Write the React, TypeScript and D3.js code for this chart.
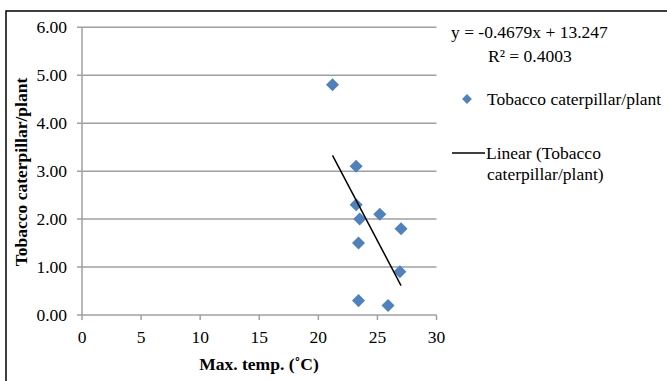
import React, { useEffect, useRef } from "react";
import * as d3 from "d3";

// Max temperature (°C) vs tobacco caterpillar count per plant
const maxTemp = [21.2, 23.2, 23.2, 23.5, 25.2, 27.0, 23.4, 26.9, 23.4, 25.9];
const caterpillars = [4.8, 3.1, 2.3, 2.0, 2.1, 1.8, 1.5, 0.9, 0.3, 0.2];
const xTicks = [0, 5, 10, 15, 20, 25, 30];
const yTicks = [0, 1, 2, 3, 4, 5, 6];
const trendSlope = -0.4679;
const trendIntercept = 13.247;

const FONT = "Liberation Serif";

const App = () => {
  const ref = useRef<SVGSVGElement>(null);

  useEffect(() => {
    const svg = d3.select(ref.current);
    svg.selectAll("*").remove();

    const x = d3.scaleLinear().domain([0, 30]).range([82, 436.5]);
    const y = d3.scaleLinear().domain([0, 6]).range([315, 27.3]);
    const grey = "#a0a0a0";

    // outer frame (only top + left visible)
    svg.append("path")
      .attr("d", "M6,381V11H667")
      .attr("fill", "none")
      .attr("stroke", "#000")
      .attr("stroke-width", 1.5);

    // gridlines + y ticks
    svg.append("g")
      .selectAll("line")
      .data(yTicks)
      .enter()
      .append("line")
      .attr("x1", 77)
      .attr("x2", x(30))
      .attr("y1", d => y(d))
      .attr("y2", d => y(d))
      .attr("stroke", grey)
      .attr("stroke-width", 1.5);

    svg.append("g")
      .selectAll("text")
      .data(yTicks)
      .enter()
      .append("text")
      .attr("x", 67)
      .attr("y", d => y(d) + 6)
      .attr("text-anchor", "end")
      .text(d => d.toFixed(2));

    // y axis line
    svg.append("line")
      .attr("x1", x(0)).attr("x2", x(0))
      .attr("y1", y(6)).attr("y2", y(0))
      .attr("stroke", grey).attr("stroke-width", 1.5);

    // x ticks
    svg.append("g")
      .selectAll("line")
      .data(xTicks)
      .enter()
      .append("line")
      .attr("x1", d => x(d)).attr("x2", d => x(d))
      .attr("y1", y(0)).attr("y2", y(0) + 5)
      .attr("stroke", grey).attr("stroke-width", 1.5);

    svg.append("g")
      .selectAll("text")
      .data(xTicks)
      .enter()
      .append("text")
      .attr("x", d => x(d))
      .attr("y", 343)
      .attr("text-anchor", "middle")
      .text(d => d);

    // axis titles
    svg.append("text")
      .attr("x", 259)
      .attr("y", 370)
      .attr("text-anchor", "middle")
      .attr("font-weight", "bold")
      .text("Max. temp. (˚C)");

    svg.append("text")
      .attr("transform", "translate(27,172) rotate(-90)")
      .attr("text-anchor", "middle")
      .attr("font-weight", "bold")
      .text("Tobacco caterpillar/plant");

    // points
    const pts = maxTemp.map((t, i) => [t, caterpillars[i]]);
    const diamond = d3.symbol().type(d3.symbolSquare).size(85);
    svg.append("g")
      .selectAll("path")
      .data(pts)
      .enter()
      .append("path")
      .attr("d", diamond)
      .attr("transform", d => `translate(${x(d[0])},${y(d[1])}) rotate(45)`)
      .attr("fill", "#4f81bd");

    // linear trendline
    const [xMin, xMax] = d3.extent(maxTemp) as [number, number];
    const line = d3.line<number>()
      .x(d => x(d))
      .y(d => y(trendSlope * d + trendIntercept));
    svg.append("path")
      .attr("d", line([xMin, xMax]))
      .attr("fill", "none")
      .attr("stroke", "#000")
      .attr("stroke-width", 1.5);

    // equation
    svg.append("text")
      .attr("x", 451).attr("y", 38)
      .text(`y = ${trendSlope}x + ${trendIntercept}`);
    svg.append("text")
      .attr("x", 488).attr("y", 62)
      .text("R² = 0.4003");

    // legend
    svg.append("path")
      .attr("d", diamond)
      .attr("transform", "translate(467,99) rotate(45) scale(0.75)")
      .attr("fill", "#4f81bd");
    svg.append("text")
      .attr("x", 487).attr("y", 105)
      .text("Tobacco caterpillar/plant");

    svg.append("line")
      .attr("x1", 452).attr("x2", 485)
      .attr("y1", 153).attr("y2", 153)
      .attr("stroke", "#000").attr("stroke-width", 1.5);
    svg.append("text")
      .attr("x", 486).attr("y", 159)
      .text("Linear (Tobacco");
    svg.append("text")
      .attr("x", 487).attr("y", 180)
      .text("caterpillar/plant)");
  }, []);

  return (
    <svg
      ref={ref}
      width={667}
      height={381}
      fontFamily={FONT}
      fontSize={17.5}
      style={{ position: "absolute", left: 0, top: 0, background: "#fff", fontFamily: "'Liberation Serif', serif" }}
    ></svg>
  );
};

export default App;
